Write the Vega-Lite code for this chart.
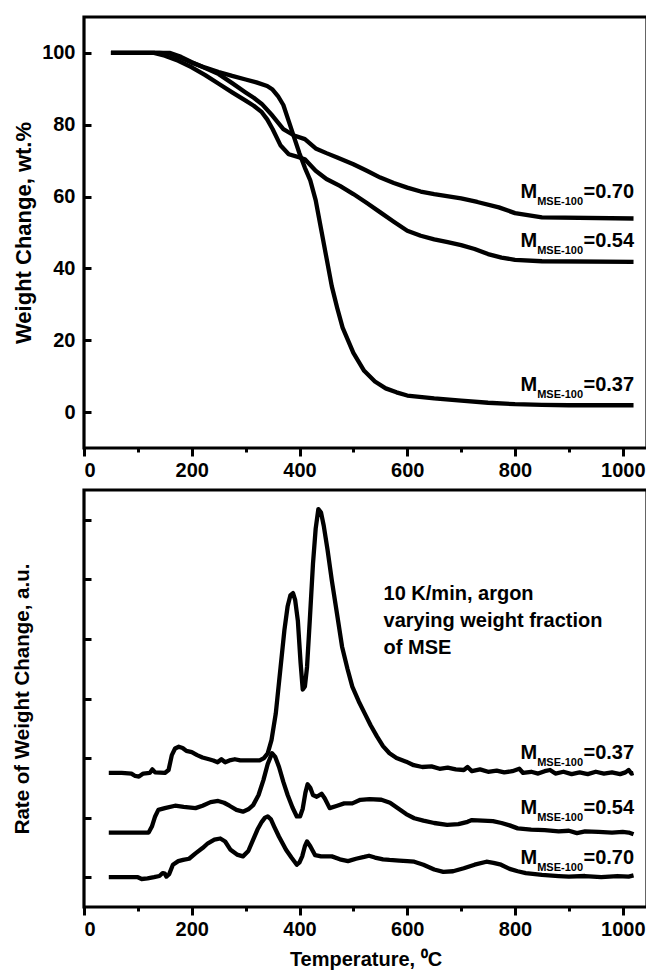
{
  "$schema": "https://vega.github.io/schema/vega-lite/v6.json",
  "padding": {"left": 10, "top": 15, "right": 0, "bottom": 2},
  "spacing": 6,
  "config": {
    "font": "Liberation Sans",
    "view": {"stroke": "black", "strokeWidth": 3.2},
    "axis": {
      "domain": false, "grid": false,
      "labelFont": "Liberation Sans", "labelFontWeight": "bold", "labelFontSize": 20, "labelColor": "black",
      "titleFont": "Liberation Sans", "titleFontWeight": "bold", "titleFontSize": 20, "titleColor": "black",
      "tickColor": "black", "tickWidth": 3, "tickSize": 7
    },
    "text": {"font": "Liberation Sans", "fontWeight": "bold", "color": "black"}
  },
  "datasets": {
    "tg": [
      {"T":50,"v":100,"s":"0.37"},{"T":100,"v":100,"s":"0.37"},{"T":140,"v":100,"s":"0.37"},{"T":160,"v":99.8,"s":"0.37"},{"T":180,"v":98.6,"s":"0.37"},{"T":200,"v":97.3,"s":"0.37"},{"T":225,"v":95.9,"s":"0.37"},{"T":250,"v":94.7,"s":"0.37"},{"T":275,"v":93.6,"s":"0.37"},{"T":300,"v":92.6,"s":"0.37"},{"T":320,"v":91.8,"s":"0.37"},{"T":340,"v":90.8,"s":"0.37"},{"T":350,"v":89.8,"s":"0.37"},{"T":360,"v":88,"s":"0.37"},{"T":370,"v":85.5,"s":"0.37"},{"T":380,"v":81,"s":"0.37"},{"T":390,"v":76.5,"s":"0.37"},{"T":400,"v":72,"s":"0.37"},{"T":410,"v":68,"s":"0.37"},{"T":420,"v":64.5,"s":"0.37"},{"T":430,"v":59,"s":"0.37"},{"T":440,"v":51,"s":"0.37"},{"T":450,"v":43,"s":"0.37"},{"T":460,"v":35,"s":"0.37"},{"T":470,"v":29,"s":"0.37"},{"T":480,"v":23.5,"s":"0.37"},{"T":500,"v":16.5,"s":"0.37"},{"T":520,"v":11.5,"s":"0.37"},{"T":540,"v":8.5,"s":"0.37"},{"T":560,"v":6.6,"s":"0.37"},{"T":580,"v":5.5,"s":"0.37"},{"T":600,"v":4.6,"s":"0.37"},{"T":650,"v":3.8,"s":"0.37"},{"T":700,"v":3.2,"s":"0.37"},{"T":750,"v":2.6,"s":"0.37"},{"T":800,"v":2.2,"s":"0.37"},{"T":850,"v":2.0,"s":"0.37"},{"T":900,"v":1.9,"s":"0.37"},{"T":1020,"v":1.9,"s":"0.37"},
      {"T":50,"v":100,"s":"0.54"},{"T":130,"v":100,"s":"0.54"},{"T":150,"v":99.2,"s":"0.54"},{"T":175,"v":97.8,"s":"0.54"},{"T":200,"v":96,"s":"0.54"},{"T":225,"v":93.8,"s":"0.54"},{"T":250,"v":91.4,"s":"0.54"},{"T":275,"v":89,"s":"0.54"},{"T":300,"v":86.7,"s":"0.54"},{"T":315,"v":85.3,"s":"0.54"},{"T":330,"v":83.5,"s":"0.54"},{"T":340,"v":81.5,"s":"0.54"},{"T":350,"v":78.8,"s":"0.54"},{"T":365,"v":74.2,"s":"0.54"},{"T":380,"v":71.8,"s":"0.54"},{"T":400,"v":70.9,"s":"0.54"},{"T":410,"v":70.4,"s":"0.54"},{"T":430,"v":67.2,"s":"0.54"},{"T":450,"v":64.9,"s":"0.54"},{"T":475,"v":63,"s":"0.54"},{"T":500,"v":60.7,"s":"0.54"},{"T":525,"v":58.2,"s":"0.54"},{"T":550,"v":55.6,"s":"0.54"},{"T":575,"v":53,"s":"0.54"},{"T":600,"v":50.5,"s":"0.54"},{"T":625,"v":49.1,"s":"0.54"},{"T":650,"v":48.1,"s":"0.54"},{"T":675,"v":47.3,"s":"0.54"},{"T":700,"v":46.5,"s":"0.54"},{"T":725,"v":45.4,"s":"0.54"},{"T":750,"v":44,"s":"0.54"},{"T":775,"v":43,"s":"0.54"},{"T":800,"v":42.4,"s":"0.54"},{"T":850,"v":42,"s":"0.54"},{"T":1020,"v":41.8,"s":"0.54"},
      {"T":50,"v":100,"s":"0.70"},{"T":160,"v":100,"s":"0.70"},{"T":180,"v":98.9,"s":"0.70"},{"T":200,"v":97.4,"s":"0.70"},{"T":225,"v":95.8,"s":"0.70"},{"T":250,"v":94.1,"s":"0.70"},{"T":275,"v":91.6,"s":"0.70"},{"T":300,"v":89,"s":"0.70"},{"T":315,"v":87.5,"s":"0.70"},{"T":330,"v":85.8,"s":"0.70"},{"T":350,"v":82.5,"s":"0.70"},{"T":370,"v":78.8,"s":"0.70"},{"T":390,"v":77,"s":"0.70"},{"T":410,"v":76,"s":"0.70"},{"T":430,"v":73.4,"s":"0.70"},{"T":450,"v":72.1,"s":"0.70"},{"T":470,"v":70.9,"s":"0.70"},{"T":500,"v":69,"s":"0.70"},{"T":525,"v":67.2,"s":"0.70"},{"T":550,"v":65.3,"s":"0.70"},{"T":575,"v":63.8,"s":"0.70"},{"T":600,"v":62.5,"s":"0.70"},{"T":625,"v":61.4,"s":"0.70"},{"T":650,"v":60.7,"s":"0.70"},{"T":700,"v":59.5,"s":"0.70"},{"T":730,"v":58.5,"s":"0.70"},{"T":770,"v":57,"s":"0.70"},{"T":800,"v":55.4,"s":"0.70"},{"T":850,"v":54.2,"s":"0.70"},{"T":1020,"v":53.9,"s":"0.70"}
    ],
    "dtg": [
      {"T":46,"v":1.75,"s":"0.37"},{"T":70,"v":1.75,"s":"0.37"},{"T":88,"v":1.74,"s":"0.37"},{"T":95,"v":1.70,"s":"0.37"},{"T":102,"v":1.69,"s":"0.37"},{"T":110,"v":1.74,"s":"0.37"},{"T":122,"v":1.75,"s":"0.37"},{"T":127,"v":1.81,"s":"0.37"},{"T":132,"v":1.76,"s":"0.37"},{"T":150,"v":1.75,"s":"0.37"},{"T":157,"v":1.80,"s":"0.37"},{"T":163,"v":2.05,"s":"0.37"},{"T":169,"v":2.16,"s":"0.37"},{"T":176,"v":2.19,"s":"0.37"},{"T":183,"v":2.17,"s":"0.37"},{"T":190,"v":2.12,"s":"0.37"},{"T":200,"v":2.10,"s":"0.37"},{"T":210,"v":2.05,"s":"0.37"},{"T":220,"v":2.01,"s":"0.37"},{"T":232,"v":1.98,"s":"0.37"},{"T":240,"v":1.96,"s":"0.37"},{"T":248,"v":1.93,"s":"0.37"},{"T":255,"v":1.98,"s":"0.37"},{"T":262,"v":1.93,"s":"0.37"},{"T":270,"v":1.96,"s":"0.37"},{"T":280,"v":1.98,"s":"0.37"},{"T":290,"v":1.96,"s":"0.37"},{"T":300,"v":1.96,"s":"0.37"},{"T":315,"v":1.96,"s":"0.37"},{"T":326,"v":1.96,"s":"0.37"},{"T":334,"v":2.0,"s":"0.37"},{"T":341,"v":2.08,"s":"0.37"},{"T":348,"v":2.3,"s":"0.37"},{"T":356,"v":2.75,"s":"0.37"},{"T":364,"v":3.45,"s":"0.37"},{"T":372,"v":4.15,"s":"0.37"},{"T":378,"v":4.55,"s":"0.37"},{"T":383,"v":4.73,"s":"0.37"},{"T":388,"v":4.77,"s":"0.37"},{"T":392,"v":4.65,"s":"0.37"},{"T":397,"v":4.3,"s":"0.37"},{"T":402,"v":3.6,"s":"0.37"},{"T":406,"v":3.15,"s":"0.37"},{"T":410,"v":3.2,"s":"0.37"},{"T":414,"v":3.53,"s":"0.37"},{"T":419,"v":4.3,"s":"0.37"},{"T":425,"v":5.26,"s":"0.37"},{"T":430,"v":5.85,"s":"0.37"},{"T":435,"v":6.18,"s":"0.37"},{"T":440,"v":6.12,"s":"0.37"},{"T":445,"v":5.9,"s":"0.37"},{"T":452,"v":5.5,"s":"0.37"},{"T":460,"v":4.98,"s":"0.37"},{"T":470,"v":4.4,"s":"0.37"},{"T":479,"v":3.87,"s":"0.37"},{"T":489,"v":3.5,"s":"0.37"},{"T":498,"v":3.2,"s":"0.37"},{"T":510,"v":2.95,"s":"0.37"},{"T":521,"v":2.75,"s":"0.37"},{"T":532,"v":2.55,"s":"0.37"},{"T":544,"v":2.36,"s":"0.37"},{"T":555,"v":2.2,"s":"0.37"},{"T":567,"v":2.08,"s":"0.37"},{"T":580,"v":2.0,"s":"0.37"},{"T":598,"v":1.94,"s":"0.37"},{"T":612,"v":1.88,"s":"0.37"},{"T":628,"v":1.85,"s":"0.37"},{"T":645,"v":1.86,"s":"0.37"},{"T":660,"v":1.82,"s":"0.37"},{"T":675,"v":1.84,"s":"0.37"},{"T":690,"v":1.81,"s":"0.37"},{"T":705,"v":1.80,"s":"0.37"},{"T":712,"v":1.85,"s":"0.37"},{"T":720,"v":1.78,"s":"0.37"},{"T":735,"v":1.81,"s":"0.37"},{"T":750,"v":1.77,"s":"0.37"},{"T":766,"v":1.79,"s":"0.37"},{"T":780,"v":1.76,"s":"0.37"},{"T":795,"v":1.78,"s":"0.37"},{"T":808,"v":1.82,"s":"0.37"},{"T":815,"v":1.75,"s":"0.37"},{"T":830,"v":1.77,"s":"0.37"},{"T":843,"v":1.74,"s":"0.37"},{"T":855,"v":1.78,"s":"0.37"},{"T":865,"v":1.80,"s":"0.37"},{"T":875,"v":1.74,"s":"0.37"},{"T":890,"v":1.77,"s":"0.37"},{"T":905,"v":1.73,"s":"0.37"},{"T":920,"v":1.76,"s":"0.37"},{"T":935,"v":1.73,"s":"0.37"},{"T":950,"v":1.77,"s":"0.37"},{"T":965,"v":1.74,"s":"0.37"},{"T":980,"v":1.76,"s":"0.37"},{"T":995,"v":1.73,"s":"0.37"},{"T":1005,"v":1.76,"s":"0.37"},{"T":1011,"v":1.80,"s":"0.37"},{"T":1016,"v":1.74,"s":"0.37"},{"T":1020,"v":1.75,"s":"0.37"},
      {"T":46,"v":0.75,"s":"0.54"},{"T":120,"v":0.75,"s":"0.54"},{"T":126,"v":0.85,"s":"0.54"},{"T":132,"v":1.02,"s":"0.54"},{"T":138,"v":1.13,"s":"0.54"},{"T":150,"v":1.16,"s":"0.54"},{"T":169,"v":1.20,"s":"0.54"},{"T":185,"v":1.18,"s":"0.54"},{"T":207,"v":1.16,"s":"0.54"},{"T":220,"v":1.20,"s":"0.54"},{"T":235,"v":1.26,"s":"0.54"},{"T":249,"v":1.28,"s":"0.54"},{"T":260,"v":1.25,"s":"0.54"},{"T":270,"v":1.20,"s":"0.54"},{"T":283,"v":1.13,"s":"0.54"},{"T":295,"v":1.10,"s":"0.54"},{"T":305,"v":1.14,"s":"0.54"},{"T":314,"v":1.21,"s":"0.54"},{"T":324,"v":1.38,"s":"0.54"},{"T":333,"v":1.63,"s":"0.54"},{"T":341,"v":1.9,"s":"0.54"},{"T":349,"v":2.08,"s":"0.54"},{"T":355,"v":2.02,"s":"0.54"},{"T":362,"v":1.85,"s":"0.54"},{"T":370,"v":1.6,"s":"0.54"},{"T":378,"v":1.38,"s":"0.54"},{"T":387,"v":1.17,"s":"0.54"},{"T":395,"v":1.02,"s":"0.54"},{"T":401,"v":1.02,"s":"0.54"},{"T":406,"v":1.15,"s":"0.54"},{"T":411,"v":1.42,"s":"0.54"},{"T":415,"v":1.56,"s":"0.54"},{"T":420,"v":1.50,"s":"0.54"},{"T":425,"v":1.38,"s":"0.54"},{"T":432,"v":1.35,"s":"0.54"},{"T":441,"v":1.40,"s":"0.54"},{"T":447,"v":1.32,"s":"0.54"},{"T":456,"v":1.16,"s":"0.54"},{"T":470,"v":1.2,"s":"0.54"},{"T":483,"v":1.24,"s":"0.54"},{"T":498,"v":1.24,"s":"0.54"},{"T":513,"v":1.30,"s":"0.54"},{"T":530,"v":1.31,"s":"0.54"},{"T":552,"v":1.30,"s":"0.54"},{"T":568,"v":1.25,"s":"0.54"},{"T":582,"v":1.16,"s":"0.54"},{"T":598,"v":1.06,"s":"0.54"},{"T":613,"v":0.99,"s":"0.54"},{"T":630,"v":0.95,"s":"0.54"},{"T":650,"v":0.91,"s":"0.54"},{"T":674,"v":0.88,"s":"0.54"},{"T":695,"v":0.89,"s":"0.54"},{"T":712,"v":0.93,"s":"0.54"},{"T":720,"v":0.96,"s":"0.54"},{"T":740,"v":0.95,"s":"0.54"},{"T":759,"v":0.94,"s":"0.54"},{"T":775,"v":0.91,"s":"0.54"},{"T":790,"v":0.87,"s":"0.54"},{"T":805,"v":0.82,"s":"0.54"},{"T":830,"v":0.80,"s":"0.54"},{"T":855,"v":0.79,"s":"0.54"},{"T":881,"v":0.77,"s":"0.54"},{"T":900,"v":0.78,"s":"0.54"},{"T":915,"v":0.74,"s":"0.54"},{"T":930,"v":0.77,"s":"0.54"},{"T":955,"v":0.76,"s":"0.54"},{"T":980,"v":0.75,"s":"0.54"},{"T":1000,"v":0.76,"s":"0.54"},{"T":1011,"v":0.75,"s":"0.54"},{"T":1020,"v":0.72,"s":"0.54"},
      {"T":46,"v":0,"s":"0.70"},{"T":80,"v":0,"s":"0.70"},{"T":100,"v":0,"s":"0.70"},{"T":107,"v":-0.03,"s":"0.70"},{"T":118,"v":-0.02,"s":"0.70"},{"T":130,"v":0,"s":"0.70"},{"T":140,"v":0.02,"s":"0.70"},{"T":146,"v":0.07,"s":"0.70"},{"T":150,"v":0.06,"s":"0.70"},{"T":153,"v":0.01,"s":"0.70"},{"T":158,"v":0.05,"s":"0.70"},{"T":165,"v":0.21,"s":"0.70"},{"T":175,"v":0.27,"s":"0.70"},{"T":184,"v":0.29,"s":"0.70"},{"T":195,"v":0.31,"s":"0.70"},{"T":207,"v":0.40,"s":"0.70"},{"T":220,"v":0.49,"s":"0.70"},{"T":230,"v":0.57,"s":"0.70"},{"T":242,"v":0.63,"s":"0.70"},{"T":253,"v":0.65,"s":"0.70"},{"T":262,"v":0.60,"s":"0.70"},{"T":272,"v":0.46,"s":"0.70"},{"T":284,"v":0.38,"s":"0.70"},{"T":295,"v":0.35,"s":"0.70"},{"T":305,"v":0.44,"s":"0.70"},{"T":314,"v":0.63,"s":"0.70"},{"T":322,"v":0.80,"s":"0.70"},{"T":330,"v":0.93,"s":"0.70"},{"T":336,"v":1.00,"s":"0.70"},{"T":341,"v":1.02,"s":"0.70"},{"T":347,"v":0.97,"s":"0.70"},{"T":353,"v":0.85,"s":"0.70"},{"T":362,"v":0.68,"s":"0.70"},{"T":375,"v":0.46,"s":"0.70"},{"T":385,"v":0.33,"s":"0.70"},{"T":395,"v":0.21,"s":"0.70"},{"T":400,"v":0.25,"s":"0.70"},{"T":405,"v":0.35,"s":"0.70"},{"T":410,"v":0.52,"s":"0.70"},{"T":414,"v":0.60,"s":"0.70"},{"T":420,"v":0.52,"s":"0.70"},{"T":429,"v":0.37,"s":"0.70"},{"T":440,"v":0.35,"s":"0.70"},{"T":460,"v":0.35,"s":"0.70"},{"T":475,"v":0.30,"s":"0.70"},{"T":490,"v":0.27,"s":"0.70"},{"T":505,"v":0.31,"s":"0.70"},{"T":520,"v":0.34,"s":"0.70"},{"T":529,"v":0.36,"s":"0.70"},{"T":540,"v":0.33,"s":"0.70"},{"T":555,"v":0.30,"s":"0.70"},{"T":567,"v":0.29,"s":"0.70"},{"T":585,"v":0.28,"s":"0.70"},{"T":600,"v":0.27,"s":"0.70"},{"T":613,"v":0.26,"s":"0.70"},{"T":630,"v":0.21,"s":"0.70"},{"T":650,"v":0.13,"s":"0.70"},{"T":667,"v":0.09,"s":"0.70"},{"T":685,"v":0.10,"s":"0.70"},{"T":705,"v":0.15,"s":"0.70"},{"T":725,"v":0.21,"s":"0.70"},{"T":747,"v":0.26,"s":"0.70"},{"T":760,"v":0.24,"s":"0.70"},{"T":774,"v":0.21,"s":"0.70"},{"T":790,"v":0.14,"s":"0.70"},{"T":805,"v":0.10,"s":"0.70"},{"T":820,"v":0.07,"s":"0.70"},{"T":850,"v":0.04,"s":"0.70"},{"T":881,"v":0.02,"s":"0.70"},{"T":900,"v":0.01,"s":"0.70"},{"T":930,"v":0.02,"s":"0.70"},{"T":960,"v":0.0,"s":"0.70"},{"T":990,"v":0.02,"s":"0.70"},{"T":1011,"v":0.01,"s":"0.70"},{"T":1020,"v":0.03,"s":"0.70"}
    ],
    "tglab": [
      {"T":1021,"v":61.2,"eq":"=0.70"},{"T":1021,"v":47.5,"eq":"=0.54"},{"T":1021,"v":7.5,"eq":"=0.37"}
    ],
    "dtglab": [
      {"T":1021,"v":2.09,"eq":"=0.37"},{"T":1021,"v":1.16,"eq":"=0.54"},{"T":1021,"v":0.32,"eq":"=0.70"}
    ],
    "note": [
      {"T":556,"v":4.92,"txt":"10 K/min, argon\nvarying weight fraction\nof MSE"}
    ]
  },
  "vconcat": [
    {
      "width": 563, "height": 431,
      "encoding": {
        "x": {"field":"T","type":"quantitative","scale":{"domain":[0,1045],"nice":false},
              "axis":{"title":null,"format":"d","values":[0,100,200,300,400,500,600,700,800,900,1000],"labelExpr":"datum.value % 200 == 0 ? datum.label : ''","labelPadding":4,
                      "tickSize":{"condition":{"test":"datum.value % 200 != 0","value":4},"value":8}}},
        "y": {"field":"v","type":"quantitative","scale":{"domain":[-10,110],"nice":false},
              "axis":{"title":"Weight Change, wt.%","titleFontSize":22,"values":[0,20,40,60,80,100],"tickSize":-7,"labelPadding":16,"titlePadding":6}}
      },
      "layer": [
        {"data":{"name":"tg"},"mark":{"type":"line","color":"black","strokeWidth":4.3,"strokeJoin":"round"},"encoding":{"detail":{"field":"s"}}},
        {"data":{"name":"tglab"},"mark":{"type":"text","align":"right","baseline":"middle","fontSize":20},"encoding":{"text":{"field":"eq"}}},
        {"data":{"name":"tglab"},"mark":{"type":"text","align":"right","baseline":"middle","fontSize":11,"dx":-51,"dy":10,"text":"MSE-100"}},
        {"data":{"name":"tglab"},"mark":{"type":"text","align":"right","baseline":"middle","fontSize":20,"dx":-97,"text":"M"}}
      ]
    },
    {
      "width": 563, "height": 417,
      "encoding": {
        "x": {"field":"T","type":"quantitative","scale":{"domain":[0,1045],"nice":false},
              "axis":{"title":"Temperature, ⁰C","format":"d","values":[0,100,200,300,400,500,600,700,800,900,1000],"labelExpr":"datum.value % 200 == 0 ? datum.label : ''","labelPadding":4,"titlePadding":10,
                      "tickSize":{"condition":{"test":"datum.value % 200 != 0","value":4},"value":8}}},
        "y": {"field":"v","type":"quantitative","scale":{"domain":[-0.5,6.5],"nice":false},
              "axis":{"title":"Rate of Weight Change, a.u.","titleFontSize":20.5,"values":[0,1,2,3,4,5,6],"labels":false,"tickSize":-7,"titlePadding":50}}
      },
      "layer": [
        {"data":{"name":"dtg"},"mark":{"type":"line","color":"black","strokeWidth":4.3,"strokeJoin":"round"},"encoding":{"detail":{"field":"s"}}},
        {"data":{"name":"note"},"mark":{"type":"text","align":"left","baseline":"top","fontSize":20,"lineBreak":"\n","lineHeight":27},"encoding":{"text":{"field":"txt"}}},
        {"data":{"name":"dtglab"},"mark":{"type":"text","align":"right","baseline":"middle","fontSize":20},"encoding":{"text":{"field":"eq"}}},
        {"data":{"name":"dtglab"},"mark":{"type":"text","align":"right","baseline":"middle","fontSize":11,"dx":-51,"dy":10,"text":"MSE-100"}},
        {"data":{"name":"dtglab"},"mark":{"type":"text","align":"right","baseline":"middle","fontSize":20,"dx":-97,"text":"M"}}
      ]
    }
  ]
}
